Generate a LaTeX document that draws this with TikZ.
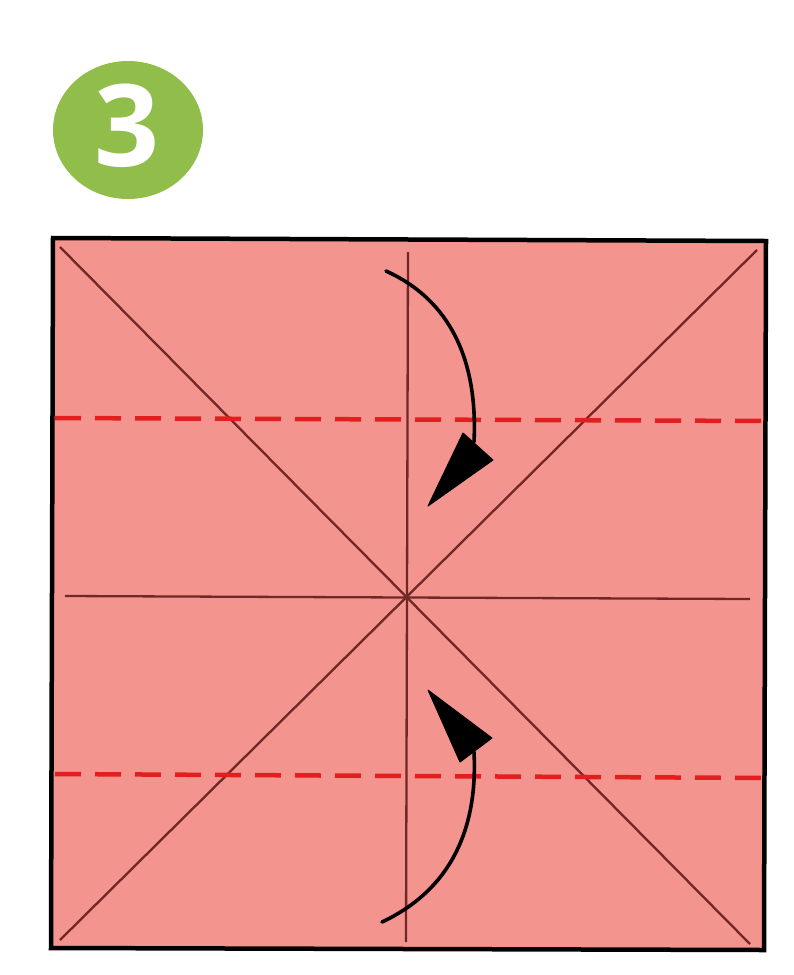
\documentclass[tikz,border=0pt]{standalone}
\usepackage{fontspec}
\setmainfont{Open Sans}
\begin{document}
\begin{tikzpicture}[x=1pt,y=-1pt,
  crease/.style={draw=foldbrown,line width=2.3pt},
  valley/.style={draw=foldred,line width=4.5pt,dash pattern=on 26pt off 14pt},
  curvearrow/.style={draw=black,line width=3.6pt,line cap=round},
  headtri/.style={fill=black,draw=black,line width=1pt,line join=round}]
\definecolor{paper}{RGB}{243,148,143}
\definecolor{foldbrown}{RGB}{115,38,38}
\definecolor{foldred}{RGB}{226,30,30}
\definecolor{stepgreen}{RGB}{145,189,74}
\useasboundingbox (0,0) rectangle (794,975);
% step badge
\fill[stepgreen] (128,130) ellipse [x radius=75, y radius=69];
\node[text=white,font=\fontsize{114}{114}\selectfont\bfseries] (num) at (127,126) {3};
% paper
\coordinate (tl) at (53,238);
\coordinate (tr) at (766,241);
\coordinate (br) at (764,950);
\coordinate (bl) at (51,948);
\fill[paper] (tl) -- (tr) -- (br) -- (bl) -- cycle;
% creases
\coordinate (c) at (406,597);
\draw[crease] (408,252) -- (406,942);
\draw[crease] (65,596) -- (750,599);
\draw[crease] (60,247) -- (750,944);
\draw[crease] (757,250) -- (60,940);
% valley fold lines
\draw[valley] (55,418) -- (766,421);
\draw[valley] (55,774) -- (766,778);
% arrows
\coordinate (a1s) at (386,271);
\coordinate (a1e) at (474,442);
\draw[curvearrow] (a1s) .. controls (450,300) and (478,360) .. (a1e);
\fill[headtri] (463,433) -- (493,460) -- (428,506) -- cycle;
\coordinate (a2s) at (382,922);
\coordinate (a2e) at (474,752);
\draw[curvearrow] (a2s) .. controls (450,890) and (478,830) .. (a2e);
\fill[headtri] (460,762) -- (492,738) -- (428,690) -- cycle;
% border
\draw[black,line width=4.5pt,line join=miter] (tl) -- (tr) -- (br) -- (bl) -- cycle;
\end{tikzpicture}
\end{document}
